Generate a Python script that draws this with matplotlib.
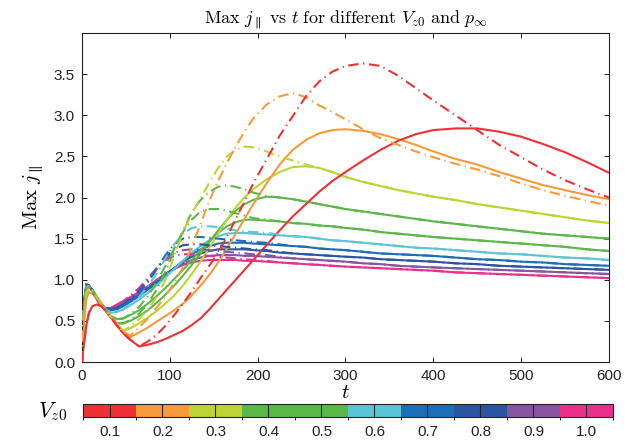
import matplotlib
matplotlib.use("Agg")
import matplotlib.pyplot as plt
import matplotlib as mpl
from matplotlib.colors import ListedColormap, BoundaryNorm

plt.rcParams['font.family'] = ['Liberation Sans', 'DejaVu Sans']
plt.rcParams['mathtext.fontset'] = 'cm'

# ---------------- data ----------------
vz0 = [0.1, 0.2, 0.3, 0.4, 0.5, 0.6, 0.7, 0.8, 0.9, 1.0]
colors = ['#EE3135', '#F89A3A', '#BDD432', '#5BB848', '#5BB848',
          '#5BC5D8', '#1C6FB7', '#2B54A3', '#8854A2', '#EB308C']

t = [0, 2, 5, 8, 12, 17, 22, 27, 33, 40,
     47, 55, 65, 75, 85, 95, 105, 115, 125, 135,
     145, 155, 165, 175, 185, 195, 210, 225, 240, 255,
     270, 285, 300, 320, 340, 360, 380, 400, 425, 450,
     475, 500, 525, 550, 575, 600]

# solid lines (first p_inf)
s01 = [0, 0.2, 0.45, 0.6, 0.68, 0.7, 0.68, 0.62, 0.54, 0.44,
       0.35, 0.27, 0.19, 0.21, 0.24, 0.28, 0.33, 0.38, 0.45, 0.53,
       0.64, 0.76, 0.88, 1.0, 1.12, 1.24, 1.42, 1.6, 1.77, 1.92,
       2.07, 2.2, 2.31, 2.45, 2.58, 2.69, 2.77, 2.82, 2.84, 2.84,
       2.8, 2.74, 2.65, 2.55, 2.43, 2.30]
s02 = [0, 0.45, 0.78, 0.85, 0.83, 0.77, 0.7, 0.63, 0.55, 0.45,
       0.37, 0.30, 0.36, 0.42, 0.49, 0.56, 0.63, 0.71, 0.81, 0.93,
       1.06, 1.21, 1.38, 1.56, 1.74, 1.92, 2.17, 2.4, 2.58, 2.7,
       2.78, 2.82, 2.83, 2.81, 2.77, 2.71, 2.64, 2.56, 2.47, 2.40,
       2.31, 2.23, 2.15, 2.09, 2.03, 1.98]
s03 = [0, 0.55, 0.85, 0.89, 0.86, 0.79, 0.72, 0.64, 0.55, 0.46,
       0.38, 0.41, 0.47, 0.54, 0.62, 0.71, 0.81, 0.93, 1.07, 1.22,
       1.39, 1.56, 1.73, 1.88, 2.0, 2.1, 2.22, 2.31, 2.37, 2.38,
       2.36, 2.31, 2.25, 2.19, 2.14, 2.09, 2.05, 2.01, 1.97, 1.92,
       1.88, 1.84, 1.80, 1.76, 1.72, 1.69]
s04 = [0, 0.6, 0.9, 0.91, 0.87, 0.79, 0.71, 0.63, 0.55, 0.47,
       0.47, 0.5, 0.56, 0.63, 0.72, 0.82, 0.93, 1.05, 1.18, 1.32,
       1.46, 1.6, 1.73, 1.84, 1.92, 1.97, 2.01, 2.0, 1.98, 1.95,
       1.92, 1.89, 1.86, 1.83, 1.80, 1.77, 1.74, 1.71, 1.68, 1.65,
       1.62, 1.59, 1.56, 1.54, 1.52, 1.50]
s05 = [0, 0.62, 0.92, 0.92, 0.87, 0.79, 0.71, 0.63, 0.56, 0.52,
       0.53, 0.57, 0.63, 0.71, 0.8, 0.9, 1.01, 1.12, 1.24, 1.36,
       1.47, 1.57, 1.65, 1.7, 1.73, 1.73, 1.72, 1.71, 1.69, 1.68,
       1.66, 1.65, 1.63, 1.61, 1.58, 1.56, 1.54, 1.52, 1.50, 1.48,
       1.46, 1.44, 1.42, 1.40, 1.37, 1.35]
s06 = [0, 0.65, 0.93, 0.92, 0.87, 0.78, 0.7, 0.64, 0.6, 0.61,
       0.64, 0.69, 0.76, 0.84, 0.93, 1.03, 1.13, 1.23, 1.33, 1.41,
       1.48, 1.53, 1.56, 1.57, 1.57, 1.56, 1.55, 1.54, 1.53, 1.52,
       1.5, 1.48, 1.47, 1.45, 1.43, 1.41, 1.39, 1.38, 1.36, 1.34,
       1.32, 1.31, 1.29, 1.27, 1.26, 1.24]
s07 = [0, 0.66, 0.93, 0.93, 0.87, 0.78, 0.7, 0.65, 0.63, 0.64,
       0.68, 0.73, 0.8, 0.88, 0.96, 1.05, 1.14, 1.23, 1.31, 1.37,
       1.41, 1.44, 1.45, 1.45, 1.45, 1.44, 1.43, 1.42, 1.41, 1.4,
       1.38, 1.37, 1.36, 1.34, 1.32, 1.31, 1.30, 1.29, 1.27, 1.25,
       1.24, 1.22, 1.21, 1.19, 1.18, 1.17]
s08 = [0, 0.67, 0.94, 0.93, 0.87, 0.77, 0.69, 0.65, 0.64, 0.66,
       0.7, 0.75, 0.81, 0.89, 0.97, 1.06, 1.14, 1.22, 1.28, 1.32,
       1.35, 1.37, 1.37, 1.37, 1.37, 1.36, 1.35, 1.33, 1.32, 1.31,
       1.3, 1.29, 1.28, 1.27, 1.25, 1.24, 1.23, 1.22, 1.2, 1.19,
       1.17, 1.16, 1.15, 1.14, 1.13, 1.12]
s09 = [0, 0.68, 0.94, 0.93, 0.86, 0.76, 0.68, 0.65, 0.65, 0.68,
       0.72, 0.77, 0.83, 0.91, 0.99, 1.07, 1.14, 1.2, 1.24, 1.27,
       1.29, 1.3, 1.3, 1.3, 1.29, 1.29, 1.28, 1.27, 1.26, 1.25,
       1.24, 1.23, 1.22, 1.2, 1.19, 1.17, 1.16, 1.15, 1.14, 1.13,
       1.12, 1.11, 1.10, 1.09, 1.08, 1.07]
s10 = [0, 0.7, 0.95, 0.93, 0.86, 0.76, 0.68, 0.65, 0.66, 0.7,
       0.74, 0.79, 0.85, 0.92, 1.0, 1.07, 1.13, 1.18, 1.21, 1.23,
       1.24, 1.24, 1.24, 1.24, 1.23, 1.23, 1.22, 1.21, 1.2, 1.19,
       1.18, 1.17, 1.16, 1.15, 1.14, 1.13, 1.12, 1.11, 1.09, 1.08,
       1.07, 1.06, 1.05, 1.04, 1.03, 1.02]

# dash-dot lines (second p_inf)
d01 = [0, 0.2, 0.45, 0.6, 0.68, 0.7, 0.68, 0.62, 0.54, 0.44,
       0.35, 0.27, 0.19, 0.25, 0.33, 0.44, 0.57, 0.71, 0.86, 1.02,
       1.17, 1.33, 1.52, 1.74, 1.95, 2.17, 2.46, 2.75, 2.99, 3.23,
       3.41, 3.53, 3.6, 3.63, 3.6, 3.48, 3.33, 3.18, 3.0, 2.82,
       2.64, 2.49, 2.34, 2.21, 2.1, 2.0]
d02 = [0, 0.45, 0.78, 0.85, 0.83, 0.77, 0.7, 0.63, 0.55, 0.45,
       0.37, 0.32, 0.42, 0.53, 0.66, 0.8, 0.96, 1.15, 1.4, 1.68,
       1.96, 2.2, 2.42, 2.62, 2.8, 2.96, 3.13, 3.23, 3.27, 3.22,
       3.12, 3.04, 2.95, 2.83, 2.72, 2.64, 2.56, 2.49, 2.41, 2.34,
       2.26, 2.17, 2.09, 2.02, 1.96, 1.9]
d03 = [0, 0.55, 0.85, 0.89, 0.86, 0.79, 0.72, 0.64, 0.55, 0.46,
       0.38, 0.43, 0.52, 0.64, 0.79, 1.0, 1.28, 1.58, 1.81, 1.99,
       2.18, 2.36, 2.5, 2.58, 2.62, 2.61, 2.56, 2.5, 2.45, 2.4,
       2.36, 2.31, 2.25, 2.19, 2.14, 2.09, 2.05, 2.01, 1.97, 1.92,
       1.88, 1.84, 1.80, 1.76, 1.72, 1.69]
d04 = [0, 0.6, 0.9, 0.91, 0.87, 0.79, 0.71, 0.63, 0.55, 0.47,
       0.47, 0.51, 0.59, 0.71, 0.88, 1.1, 1.35, 1.6, 1.82, 1.97,
       2.07, 2.13, 2.15, 2.13, 2.1, 2.06, 2.02, 2.0, 1.98, 1.95,
       1.92, 1.89, 1.86, 1.83, 1.80, 1.77, 1.74, 1.71, 1.68, 1.65,
       1.62, 1.59, 1.56, 1.54, 1.52, 1.50]
d05 = [0, 0.62, 0.92, 0.92, 0.87, 0.79, 0.71, 0.63, 0.56, 0.52,
       0.53, 0.58, 0.67, 0.8, 0.97, 1.17, 1.38, 1.58, 1.73, 1.83,
       1.86, 1.86, 1.84, 1.81, 1.78, 1.75, 1.73, 1.71, 1.69, 1.68,
       1.66, 1.65, 1.63, 1.61, 1.58, 1.56, 1.54, 1.52, 1.50, 1.48,
       1.46, 1.44, 1.42, 1.40, 1.37, 1.35]
d06 = [0, 0.65, 0.93, 0.92, 0.87, 0.78, 0.7, 0.64, 0.6, 0.61,
       0.64, 0.7, 0.79, 0.92, 1.08, 1.26, 1.43, 1.56, 1.63, 1.65,
       1.65, 1.64, 1.62, 1.6, 1.59, 1.58, 1.57, 1.55, 1.53, 1.52,
       1.5, 1.48, 1.47, 1.45, 1.43, 1.41, 1.39, 1.38, 1.36, 1.34,
       1.32, 1.31, 1.29, 1.27, 1.26, 1.24]
d07 = [0, 0.66, 0.93, 0.93, 0.87, 0.78, 0.7, 0.65, 0.63, 0.64,
       0.68, 0.75, 0.84, 0.97, 1.13, 1.3, 1.43, 1.5, 1.52, 1.52,
       1.51, 1.5, 1.49, 1.48, 1.47, 1.46, 1.45, 1.43, 1.41, 1.4,
       1.38, 1.37, 1.36, 1.34, 1.32, 1.31, 1.30, 1.29, 1.27, 1.25,
       1.24, 1.22, 1.21, 1.19, 1.18, 1.17]
d08 = [0, 0.67, 0.94, 0.93, 0.87, 0.77, 0.69, 0.65, 0.64, 0.66,
       0.7, 0.77, 0.86, 0.98, 1.13, 1.27, 1.37, 1.42, 1.43, 1.43,
       1.42, 1.41, 1.40, 1.39, 1.38, 1.37, 1.36, 1.34, 1.32, 1.31,
       1.3, 1.29, 1.28, 1.27, 1.25, 1.24, 1.23, 1.22, 1.2, 1.19,
       1.17, 1.16, 1.15, 1.14, 1.13, 1.12]
d09 = [0, 0.68, 0.94, 0.93, 0.86, 0.76, 0.68, 0.65, 0.65, 0.68,
       0.72, 0.79, 0.88, 1.0, 1.14, 1.26, 1.33, 1.36, 1.37, 1.37,
       1.36, 1.35, 1.34, 1.33, 1.32, 1.31, 1.30, 1.28, 1.26, 1.25,
       1.24, 1.23, 1.22, 1.2, 1.19, 1.17, 1.16, 1.15, 1.14, 1.13,
       1.12, 1.11, 1.10, 1.09, 1.08, 1.07]
d10 = [0, 0.7, 0.95, 0.93, 0.86, 0.76, 0.68, 0.65, 0.66, 0.7,
       0.74, 0.81, 0.9, 1.02, 1.14, 1.24, 1.29, 1.31, 1.31, 1.3,
       1.29, 1.28, 1.27, 1.26, 1.25, 1.24, 1.23, 1.21, 1.2, 1.19,
       1.18, 1.17, 1.16, 1.15, 1.14, 1.13, 1.12, 1.11, 1.09, 1.08,
       1.07, 1.06, 1.05, 1.04, 1.03, 1.02]

solid = [s01, s02, s03, s04, s05, s06, s07, s08, s09, s10]
dashed = [d01, d02, d03, d04, d05, d06, d07, d08, d09, d10]

xticks = [0, 100, 200, 300, 400, 500, 600]
yticks = [0, 0.5, 1.0, 1.5, 2.0, 2.5, 3.0, 3.5]

# ---------------- figure ----------------
fig = plt.figure(figsize=(6.37, 4.45), dpi=100)
ax = fig.add_axes([0.1287, 0.1865, 0.8273, 0.7393])

lw = 1.5
for i in reversed(range(len(vz0))):
    ax.plot(t, solid[i], color=colors[i], lw=lw, solid_capstyle='butt', zorder=2)
for i in reversed(range(len(vz0))):
    ax.plot(t, dashed[i], color=colors[i], lw=lw, zorder=3,
            linestyle=(0, (5, 2.2, 0.6, 2.2)))

ax.set_xlim(0, 600)
ax.set_ylim(0, 4.0)
ax.set_xticks(xticks)
ax.set_xticklabels([str(v) for v in xticks])
ax.set_yticks(yticks)
ax.set_yticklabels(['%.1f' % v for v in yticks])
ax.tick_params(direction='in', length=3.5, width=0.7, top=True, right=True,
               labelsize=11, colors='#222222', pad=5)
for sp in ax.spines.values():
    sp.set_linewidth(0.8)
    sp.set_color('#222222')

ax.set_title(r'$\mathrm{Max}\ j_{\parallel}\ \mathrm{vs}\ t\ \mathrm{for\ different}\ V_{z0}\ \mathrm{and}\ p_{\infty}$',
             fontsize=13, pad=7)
ax.set_ylabel(r'$\mathrm{Max}\ j_{\parallel}$', fontsize=15, labelpad=6)
ax.set_xlabel(r'$t$', fontsize=15, labelpad=0)

# ---------------- colorbar ----------------
cax = fig.add_axes([0.1303, 0.0629, 0.8320, 0.0292])
bounds = [v - 0.05 for v in vz0] + [vz0[-1] + 0.05]
cmap = ListedColormap(colors)
norm = BoundaryNorm(bounds, cmap.N)
cb = mpl.colorbar.ColorbarBase(cax, cmap=cmap, norm=norm, orientation='horizontal',
                               ticks=vz0, boundaries=bounds)
cb.set_ticklabels(['%.1f' % v for v in vz0])
cax.tick_params(axis='x', direction='in', length=9.4, width=0.8, color='#222222',
                labelsize=11, labelcolor='#222222', pad=6)
cb.outline.set_linewidth(0.8)
cb.outline.set_edgecolor('#222222')
fig.text(0.105, 0.076, r'$V_{z0}$', fontsize=16, ha='right', va='center')

fig.savefig('out.png', dpi=100)
